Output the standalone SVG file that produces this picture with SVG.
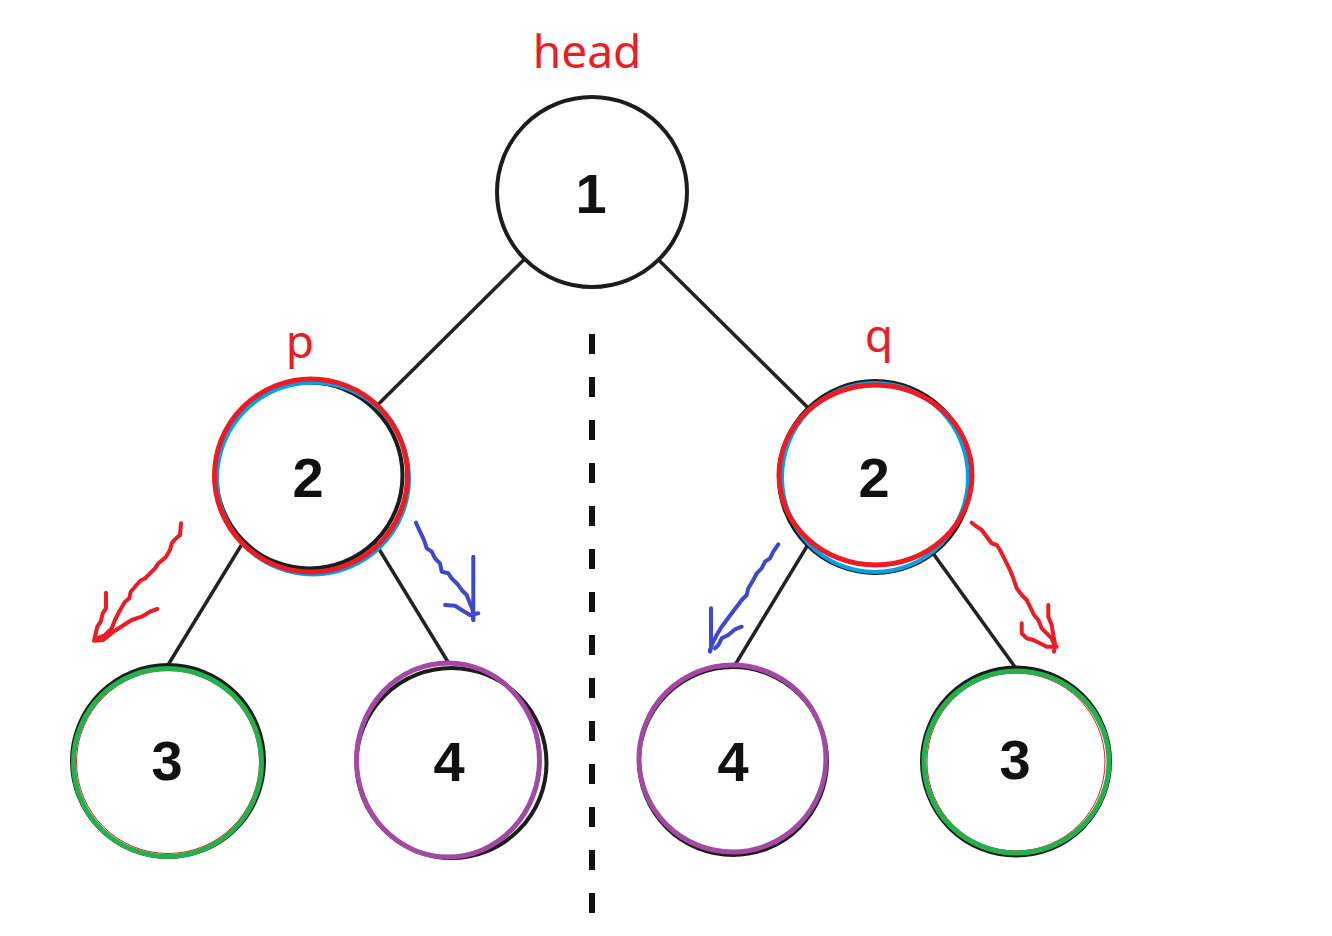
<svg xmlns="http://www.w3.org/2000/svg" width="1332" height="936" viewBox="0 0 1332 936">
<style>
.edge{stroke:#222;stroke-width:3.5;fill:none}
.node{fill:#fff;stroke:#1c1c1c;stroke-width:4}
.num{font-family:"Liberation Sans",Arial,sans-serif;font-weight:bold;font-size:56px;fill:#111;text-anchor:middle}
.lbl{font-family:"Noto Sans","Open Sans",sans-serif;font-size:46px;fill:#ED1C24;text-anchor:middle}
.red{fill:none;stroke:#ED1C24;stroke-width:5}
.cyan{fill:none;stroke:#00A2E8;stroke-width:4}
.green{fill:none;stroke:#22B14C;stroke-width:5}
.purple{fill:none;stroke:#A349A4;stroke-width:5}
.thinred{fill:none;stroke:#ED1C24;stroke-width:1}
.pen{fill:none;stroke-width:4;stroke-linecap:round;stroke-linejoin:round}
</style>
<rect width="1332" height="936" fill="#fff"/>
<g id="connectors">
<line class="edge" x1="592" y1="192" x2="305" y2="477"/>
<line class="edge" x1="590" y1="192" x2="878" y2="477"/>
<line class="edge" x1="283" y1="477" x2="168" y2="665"/>
<line class="edge" x1="335" y1="477" x2="448" y2="662"/>
<line class="edge" x1="849" y1="477" x2="735" y2="665"/>
<line class="edge" x1="878" y1="477" x2="1015" y2="667"/>
</g>
<line id="divider" x1="592" y1="334" x2="592" y2="913" stroke="#111" stroke-width="6" stroke-dasharray="20 23"/>
<g id="node-1">
<circle class="node" cx="592" cy="192" r="95"/>
<text class="num" x="591" y="213">1</text>
</g>
<g id="node-2-left">
<circle class="node" cx="309.5" cy="475.5" r="93"/>
<circle class="cyan" cx="313" cy="478.5" r="96"/>
<circle class="red" cx="311" cy="475.5" r="96.5"/>
<text class="num" x="308" y="497">2</text>
</g>
<g id="node-2-right">
<circle class="node" cx="875" cy="477" r="96"/>
<ellipse class="cyan" cx="875" cy="477.5" rx="93" ry="94.5"/>
<ellipse class="red" cx="875.5" cy="475" rx="96.5" ry="90"/>
<text class="num" x="874" y="497">2</text>
</g>
<g id="node-3-left">
<circle class="node" cx="168" cy="761" r="96"/>
<circle class="thinred" cx="168" cy="762" r="91.5"/>
<circle class="green" cx="167.5" cy="762.5" r="94"/>
<text class="num" x="167" y="780">3</text>
</g>
<g id="node-4-left">
<circle class="node" cx="451.5" cy="763" r="95"/>
<ellipse class="purple" cx="448" cy="760" rx="91.5" ry="97"/>
<text class="num" x="449" y="781">4</text>
</g>
<g id="node-4-right">
<circle class="node" cx="733" cy="761" r="94"/>
<circle class="purple" cx="732.5" cy="758.5" r="93.5"/>
<text class="num" x="733" y="781">4</text>
</g>
<g id="node-3-right">
<circle class="node" cx="1016" cy="761.5" r="94"/>
<circle class="thinred" cx="1016" cy="762" r="89"/>
<ellipse class="green" cx="1016.5" cy="762" rx="92.5" ry="91"/>
<text class="num" x="1015" y="779">3</text>
</g>
<g id="labels">
<text class="lbl" x="587" y="68">head</text>
<text class="lbl" x="300" y="358">p</text>
<text class="lbl" x="879" y="352">q</text>
</g>
<g id="pen-strokes">
<polyline class="pen" stroke="#ED1C24" points="181,523.3 180,535 175,539.3 171.7,543.3 170,550 166,556.7 161.7,560.7 158.3,563.3 155,568.3 150,573.3 145,578.3 140,581 135,586.7 130.7,591.7 129.3,598.3 125,601.7 121.7,607.3 118.3,613.3 115,620 111.7,628.3 105,635 95,639.3"/>
<polyline class="pen" stroke="#ED1C24" points="106,592.7 106,608.3 102.7,613.3 100.7,621.7 97.3,626.7 95,636.7 94,640.7 103.3,640 113.3,631.7 131.7,620 141.7,616.7 150,611.7 157.3,609"/>
<polyline class="pen" stroke="#3F48CC" points="416,522.7 420,531.7 424,540 426.7,548.3 431.7,551.7 435,558.3 440,563.3 441.7,571.7 448.3,573.3 451.7,578.3 458.3,585 461.7,590 466.7,595 470,603.3 472.7,610 473.3,620"/>
<polyline class="pen" stroke="#3F48CC" points="473.3,556.7 473.3,620"/>
<polyline class="pen" stroke="#3F48CC" points="445,605 455,605.7 461.7,610 470,615 478.3,613.3"/>
<polyline class="pen" stroke="#3F48CC" points="778.3,544.3 773.3,551.7 770,558.3 765,561.7 761.7,568.3 756.7,573.3 753.3,580 748.3,588.3 746.7,595 741.7,600 736.7,606.7 731.7,613.3 726.7,620 721.7,626.7 716.7,635 713.3,641.7 710,650"/>
<polyline class="pen" stroke="#3F48CC" points="711,608.3 711,648.3 710,651.7"/>
<polyline class="pen" stroke="#3F48CC" points="741.7,626.7 735,629.3 728.3,635 721.7,638.3 718.3,645 715,648.3"/>
<polyline class="pen" stroke="#ED1C24" points="971.7,522.7 976.7,526.7 981.7,530 986.7,536.7 991.7,543.3 996.7,545 1000,550 1003.3,556.7 1006.7,563.3 1010,570 1013.3,578.3 1016.7,588.3 1021.7,595 1026.7,600 1030,606.7 1034,615 1038.3,620 1041.7,628.3 1046.7,633.3 1051.7,638.3 1055,646.7"/>
<polyline class="pen" stroke="#ED1C24" points="1048.3,605 1048.3,616.7 1051.7,625 1053.3,635 1055,643.3 1054,651.7"/>
<polyline class="pen" stroke="#ED1C24" points="1021.7,623.3 1021.7,633.3 1026.7,638.3 1033.3,640 1040,643.3 1046.7,646.7 1056.7,646.7"/>
</g>
</svg>
